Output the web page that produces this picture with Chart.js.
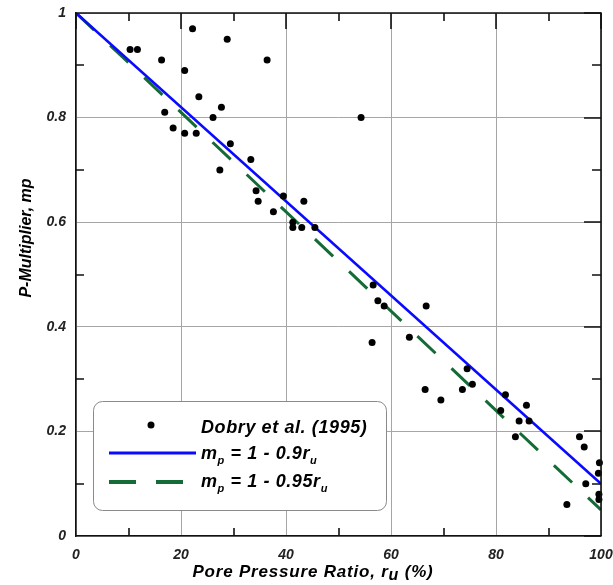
<!DOCTYPE html>
<html>
<head>
<meta charset="utf-8">
<script src="https://cdn.jsdelivr.net/npm/chart.js@4/dist/chart.umd.min.js"></script>
<style>
  body { margin: 0; background: #fff; }
  canvas { display: block; }
</style>
</head>
<body>
<canvas id="myChart" width="613" height="585"></canvas>
<script>
const ruValues = [10.3, 11.7, 16.3, 16.9, 18.5, 20.7, 20.7, 22.2, 22.9, 23.4, 26.1, 27.4, 27.7, 28.8, 29.4,
  33.3, 34.3, 34.7, 36.4, 37.6, 39.5, 41.3, 41.3, 43.0, 43.4, 45.5, 54.3, 56.4, 56.6, 57.5, 58.7,
  63.5, 66.5, 66.7, 69.5, 73.6, 74.5, 75.5, 80.9, 81.8, 83.7, 84.4, 85.8, 86.3, 93.5, 95.9, 96.8,
  97.1, 99.5, 99.6, 99.6, 99.7];
const mpValues = [0.93, 0.93, 0.91, 0.81, 0.78, 0.89, 0.77, 0.97, 0.77, 0.84, 0.80, 0.70, 0.82, 0.95, 0.75,
  0.72, 0.66, 0.64, 0.91, 0.62, 0.65, 0.59, 0.60, 0.59, 0.64, 0.59, 0.80, 0.37, 0.48, 0.45, 0.44,
  0.38, 0.28, 0.44, 0.26, 0.28, 0.32, 0.29, 0.24, 0.27, 0.19, 0.22, 0.25, 0.22, 0.06, 0.19, 0.17,
  0.10, 0.12, 0.08, 0.07, 0.14];

// fitted lines (end points)
const lineRu = [0, 100];
const line09 = [1, 0.1];
const line095 = [1, 0.05];

// minor tick positions
const xMinor = [10, 30, 50, 70, 90];
const yMinor = [0.1, 0.3, 0.5, 0.7, 0.9];

const FONT = "'Liberation Sans', Arial, sans-serif";

function toPoints(xs, ys) {
  let arr = [];
  for (let i = 0; i < xs.length; i++) {
    arr.push({ x: xs[i], y: ys[i] });
  }
  return arr;
}

// draw text with subscript parts
function drawRich(ctx, parts, x, y, size, subSize, subDrop) {
  let cx = x;
  for (const p of parts) {
    ctx.font = "italic bold " + (p.sub ? subSize : size) + "px " + FONT;
    ctx.fillText(p.t, cx, p.sub ? y + subDrop : y);
    cx += ctx.measureText(p.t).width;
  }
  return cx - x;
}

function richWidth(ctx, parts, size, subSize) {
  let w = 0;
  for (const p of parts) {
    ctx.font = "italic bold " + (p.sub ? subSize : size) + "px " + FONT;
    w += ctx.measureText(p.t).width;
  }
  return w;
}

const decor = {
  id: "decor",
  afterDraw(chart) {
    const { ctx, chartArea: a, scales } = chart;
    const x = scales.x, y = scales.y;
    ctx.save();

    // top and right frame
    ctx.strokeStyle = "#111";
    ctx.lineWidth = 1.6;
    ctx.beginPath();
    ctx.moveTo(a.left, a.top);
    ctx.lineTo(a.right, a.top);
    ctx.lineTo(a.right, a.bottom);
    ctx.stroke();

    // inward tick marks
    ctx.lineWidth = 1.6;
    ctx.beginPath();
    xMinor.forEach(v => {
      const px = Math.round(x.getPixelForValue(v));
      ctx.moveTo(px, a.bottom); ctx.lineTo(px, a.bottom - 8);
      ctx.moveTo(px, a.top); ctx.lineTo(px, a.top + 8);
    });
    yMinor.forEach(v => {
      const py = Math.round(y.getPixelForValue(v));
      ctx.moveTo(a.left, py); ctx.lineTo(a.left + 8, py);
      ctx.moveTo(a.right, py); ctx.lineTo(a.right - 9, py);
    });
    x.ticks.forEach(t => {
      const px = Math.round(x.getPixelForValue(t.value));
      ctx.moveTo(px, a.top); ctx.lineTo(px, a.top + 16);
    });
    y.ticks.forEach(t => {
      const py = Math.round(y.getPixelForValue(t.value));
      ctx.moveTo(a.right, py); ctx.lineTo(a.right - 17, py);
    });
    ctx.stroke();

    // axis titles
    ctx.fillStyle = "#000";
    ctx.textBaseline = "alphabetic";
    ctx.textAlign = "left";
    ctx.letterSpacing = "0.8px";
    const xTitle = [{ t: "Pore Pressure Ratio, r" }, { t: "u", sub: true }, { t: " (%)" }];
    const xw = richWidth(ctx, xTitle, 17, 16);
    drawRich(ctx, xTitle, 313 - xw / 2, 577, 17, 16, 3);
    ctx.letterSpacing = "0px";

    ctx.save();
    ctx.translate(31, 238);
    ctx.rotate(-Math.PI / 2);
    ctx.textAlign = "center";
    ctx.font = "italic bold 16px " + FONT;
    ctx.fillText("P-Multiplier, mp", 0, 0);
    ctx.restore();

    // legend box
    const ds = chart.data.datasets;
    ctx.fillStyle = "#fff";
    ctx.strokeStyle = "#8a8a8a";
    ctx.lineWidth = 1;
    ctx.beginPath();
    ctx.roundRect(93.5, 401.5, 293, 109, 9);
    ctx.fill();
    ctx.stroke();

    ctx.fillStyle = ds[0].backgroundColor;
    ctx.beginPath();
    ctx.arc(151, 425, 3.5, 0, Math.PI * 2);
    ctx.fill();

    ctx.strokeStyle = ds[1].borderColor;
    ctx.lineWidth = 3;
    ctx.beginPath();
    ctx.moveTo(109, 453); ctx.lineTo(196, 453);
    ctx.stroke();

    ctx.strokeStyle = ds[2].borderColor;
    ctx.lineWidth = 4;
    ctx.setLineDash([27, 20]);
    ctx.beginPath();
    ctx.moveTo(109, 482); ctx.lineTo(183, 482);
    ctx.stroke();
    ctx.setLineDash([]);

    ctx.fillStyle = "#000";
    ctx.letterSpacing = "0.6px";
    drawRich(ctx, [{ t: ds[0].label }], 201, 433, 18, 11, 5);
    drawRich(ctx, [{ t: "m" }, { t: "p", sub: true }, { t: " = 1 - 0.9r" }, { t: "u", sub: true }], 201, 459, 18, 11, 5);
    drawRich(ctx, [{ t: "m" }, { t: "p", sub: true }, { t: " = 1 - 0.95r" }, { t: "u", sub: true }], 201, 487, 18, 11, 5);
    ctx.restore();
  },
};

const tickFont = { family: FONT, size: 14, style: "italic", weight: "bold" };

const ctx = document.getElementById("myChart").getContext("2d");
const myChart = new Chart(ctx, {
  type: "scatter",
  data: {
    datasets: [
      {
        label: "Dobry et al. (1995)",
        data: toPoints(ruValues, mpValues),
        backgroundColor: "#000",
        borderColor: "#000",
        pointRadius: 3.5,
        pointBorderWidth: 0,
        clip: false,
      },
      {
        label: "mp = 1 - 0.9ru",
        data: toPoints(lineRu, line09),
        showLine: true,
        borderColor: "#0a0aff",
        borderWidth: 2.6,
        pointRadius: 0,
      },
      {
        label: "mp = 1 - 0.95ru",
        data: toPoints(lineRu, line095),
        showLine: true,
        borderColor: "#146b36",
        borderWidth: 3,
        borderDash: [25, 22],
        pointRadius: 0,
      },
    ],
  },
  options: {
    animation: false,
    responsive: false,
    layout: { padding: 0 },
    scales: {
      x: {
        type: "linear",
        min: 0,
        max: 100,
        ticks: { stepSize: 20, padding: 11, color: "#222", font: tickFont, maxRotation: 0 },
        grid: { color: "#a6a6a6", lineWidth: 1, drawTicks: false },
        border: { color: "#111", width: 1.6 },
        afterFit(s) {
          s.height = 49;
          s.paddingLeft = 0;
          s.paddingRight = 12;
        },
      },
      y: {
        min: 0,
        max: 1,
        ticks: {
          stepSize: 0.2,
          padding: 10,
          color: "#222",
          font: tickFont,
          callback: (v) => String(Math.round(v * 10) / 10),
        },
        grid: { color: "#a6a6a6", lineWidth: 1, drawTicks: false },
        border: { color: "#111", width: 1.6 },
        afterFit(s) {
          s.width = 76;
          s.paddingTop = 13;
          s.paddingBottom = 0;
        },
      },
    },
    plugins: {
      legend: { display: false },
      tooltip: { enabled: false },
    },
  },
  plugins: [decor],
});
</script>
</body>
</html>
